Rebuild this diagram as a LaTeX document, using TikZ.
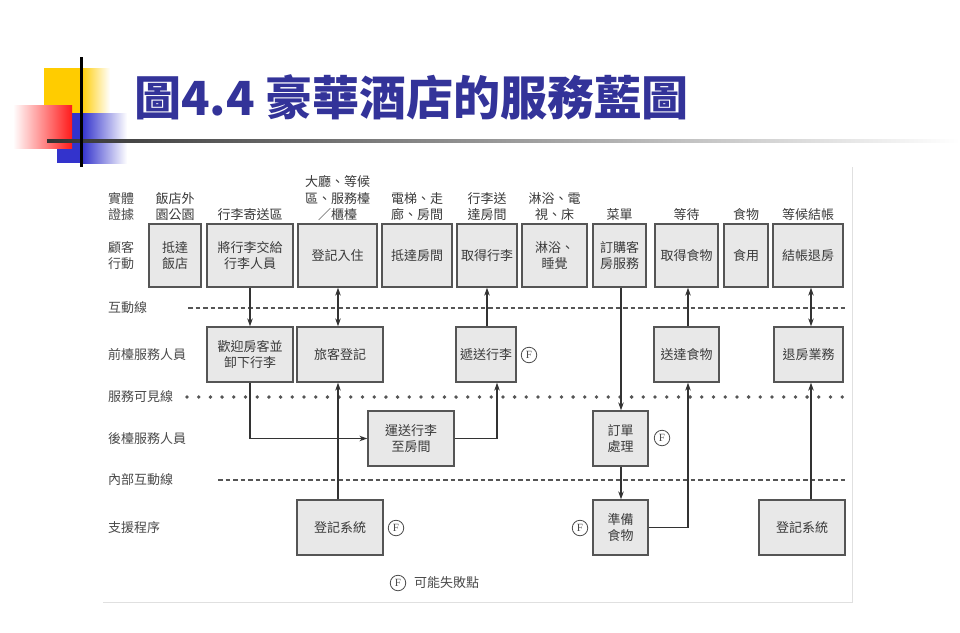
\documentclass[tikz,border=0pt]{standalone}
\usepackage{fontspec}
\newfontfamily\cjk{Noto Sans CJK TC}
\newfontfamily\fserif{Liberation Serif}
\usetikzlibrary{arrows.meta,calc}
\definecolor{titleblue}{HTML}{333399}
\definecolor{boxfill}{HTML}{E8E8E8}
\definecolor{boxline}{HTML}{555555}
\definecolor{txt}{HTML}{3A3A3A}
\definecolor{lbl}{HTML}{4A4A4A}
\definecolor{ylw}{HTML}{FFCC00}
\definecolor{rd}{HTML}{FF1A1A}
\definecolor{blu}{HTML}{3333CC}
\definecolor{conn}{HTML}{333333}
\begin{document}
\begin{tikzpicture}[x=1pt,y=-1pt,
  dtext/.style={font=\cjk\fontsize{13}{16.5}\selectfont, text=txt, align=center, inner sep=0pt},
  rowlabel/.style={font=\cjk\fontsize{13}{16.5}\selectfont, text=lbl, align=left, anchor=west, inner sep=0pt},
  header/.style={dtext, anchor=south},
  box/.style={dtext, draw=boxline, fill=boxfill, line width=1.3pt},
  fmark/.style={circle, draw=lbl, line width=0.8pt, inner sep=0pt, minimum size=15.5pt, text=lbl, font=\fserif\fontsize{11}{11}\selectfont},
  arr/.style={draw=conn, line width=1.3pt, -{Stealth[length=8pt,width=5.5pt]}},
  darr/.style={draw=conn, line width=1.3pt, {Stealth[length=8pt,width=5.5pt]}-{Stealth[length=8pt,width=5.5pt]}},
  dashline/.style={draw=boxline, line width=1.2pt, dash pattern=on 4.5pt off 3pt},
  dotline/.style={draw=boxline, line width=3.8pt, line cap=round, dash pattern=on 0pt off 11.7pt}
]
\useasboundingbox (0,0) rectangle (960,632);
\fill[white] (0,0) rectangle (960,632);

% ---- title decoration ----
\fill[ylw] (44,68) rectangle (81,113);
\shade[left color=ylw, right color=white] (81,68) rectangle (110,113);
\fill[blu] (57,113) rectangle (82,163);
\shade[left color=blu, right color=white] (82,113) rectangle (127,163);
\shade[left color=white, right color=rd] (13,105) rectangle (72,148);
\shade[left color=black!80, right color=white] (47,139.5) rectangle (960,142.5);
\fill[black] (80,57) rectangle (82.5,167);
\node[anchor=west, inner sep=0pt, text=titleblue, font=\cjk\bfseries\fontsize{47}{47}\selectfont] (title) at (134,97) {圖4.4 豪華酒店的服務藍圖};

% ---- panel edges ----
\draw[black!12, line width=0.8pt] (852,167) -- (852,602) -- (103,602);

% ---- row labels ----
\node[rowlabel] (r1) at (108,206.5) {實體\\證據};
\node[rowlabel] (r2) at (108,255.5) {顧客\\行動};
\node[rowlabel] (r3) at (108,308) {互動線};
\node[rowlabel] (r4) at (108,355) {前檯服務人員};
\node[rowlabel] (r5) at (108,397) {服務可見線};
\node[rowlabel] (r6) at (108,438.5) {後檯服務人員};
\node[rowlabel] (r7) at (108,480) {內部互動線};
\node[rowlabel] (r8) at (108,528) {支援程序};

% ---- separator lines ----
\coordinate (ia) at (188,308); \coordinate (ib) at (845,308);
\coordinate (va) at (187,397); \coordinate (vb) at (845,397);
\coordinate (na) at (218,480); \coordinate (nb) at (845,480);
\draw[dashline] (ia) -- (ib);
\draw[dotline] (va) -- (vb);
\draw[dashline] (na) -- (nb);

% ---- headers (physical evidence) ----
\node[header] (h1) at (175,221) {飯店外\\園公園};
\node[header] (h2) at (250,221) {行李寄送區};
\node[header] (h3) at (337.5,221) {大廳、等候\\區、服務檯\\／櫃檯};
\node[header] (h4) at (417,221) {電梯、走\\廊、房間};
\node[header] (h5) at (487,221) {行李送\\達房間};
\node[header] (h6) at (554.5,221) {淋浴、電\\視、床};
\node[header] (h7) at (619.5,221) {菜單};
\node[header] (h8) at (686.5,221) {等待};
\node[header] (h9) at (746,221) {食物};
\node[header] (h10) at (808,221) {等候結帳};

% ---- customer actions ----
\node[box, minimum width=52pt, minimum height=63pt] (b1) at (175,255.5) {抵達\\飯店};
\node[box, minimum width=86pt, minimum height=63pt] (b2) at (250,255.5) {將行李交給\\行李人員};
\node[box, minimum width=79pt, minimum height=63pt] (b3) at (337.5,255.5) {登記入住};
\node[box, minimum width=70pt, minimum height=63pt] (b4) at (417,255.5) {抵達房間};
\node[box, minimum width=60pt, minimum height=63pt] (b5) at (487,255.5) {取得行李};
\node[box, minimum width=65pt, minimum height=63pt] (b6) at (554.5,255.5) {淋浴、\\睡覺};
\node[box, minimum width=53pt, minimum height=63pt] (b7) at (619.5,255.5) {訂購客\\房服務};
\node[box, minimum width=63pt, minimum height=63pt] (b8) at (686.5,255.5) {取得食物};
\node[box, minimum width=44pt, minimum height=63pt] (b9) at (746,255.5) {食用};
\node[box, minimum width=70pt, minimum height=63pt] (b10) at (808,255.5) {結帳退房};

% ---- front stage ----
\node[box, minimum width=86pt, minimum height=55pt] (f1) at (250,354.5) {歡迎房客並\\卸下行李};
\node[box, minimum width=86pt, minimum height=55pt] (f2) at (340,354.5) {旅客登記};
\node[box, minimum width=60pt, minimum height=55pt] (f3) at (486,354.5) {遞送行李};
\node[box, minimum width=65pt, minimum height=55pt] (f4) at (686.5,354.5) {送達食物};
\node[box, minimum width=69pt, minimum height=55pt] (f5) at (808.5,354.5) {退房業務};

% ---- back stage ----
\node[box, minimum width=86pt, minimum height=55pt] (k1) at (411,438.5) {運送行李\\至房間};
\node[box, minimum width=55pt, minimum height=55pt] (k2) at (620.5,438.5) {訂單\\處理};

% ---- support ----
\node[box, minimum width=86pt, minimum height=55pt] (s1) at (340,527.5) {登記系統};
\node[box, minimum width=55pt, minimum height=55pt] (s2) at (620.5,527.5) {準備\\食物};
\node[box, minimum width=86pt, minimum height=55pt] (s3) at (802,527.5) {登記系統};

% ---- fail points ----
\node[fmark] (F1) at (529,355) {F};
\node[fmark] (F2) at (396,528) {F};
\node[fmark] (F3) at (662,438) {F};
\node[fmark] (F4) at (580,528) {F};
\node[fmark] (F5) at (398,583) {F};
\node[rowlabel] (leg) at (414,583) {可能失敗點};

% ---- connectors ----
\coordinate (x338) at (338,0);
\coordinate (x497) at (497,0);
\coordinate (x487) at (487,0);
\coordinate (x621) at (621,0);
\coordinate (x688) at (688,0);
\coordinate (x811) at (811,0);

\draw[arr] (b2.south) -- (f1.north);
\draw[darr] (b3.south -| x338) -- (f2.north -| x338);
\draw[arr] (f1.south) |- (k1.west);
\draw[arr] (k1.east) -| (f3.south -| x497);
\draw[arr] (f3.north -| x487) -- (b5.south -| x487);
\draw[arr] (s1.north -| x338) -- (f2.south -| x338);
\draw[arr] (b7.south -| x621) -- (k2.north -| x621);
\draw[arr] (k2.south -| x621) -- (s2.north -| x621);
\draw[arr] (s2.east) -| (f4.south -| x688);
\draw[arr] (f4.north -| x688) -- (b8.south -| x688);
\draw[arr] (s3.north -| x811) -- (f5.south -| x811);
\draw[darr] (f5.north -| x811) -- (b10.south -| x811);
\end{tikzpicture}
\end{document}
